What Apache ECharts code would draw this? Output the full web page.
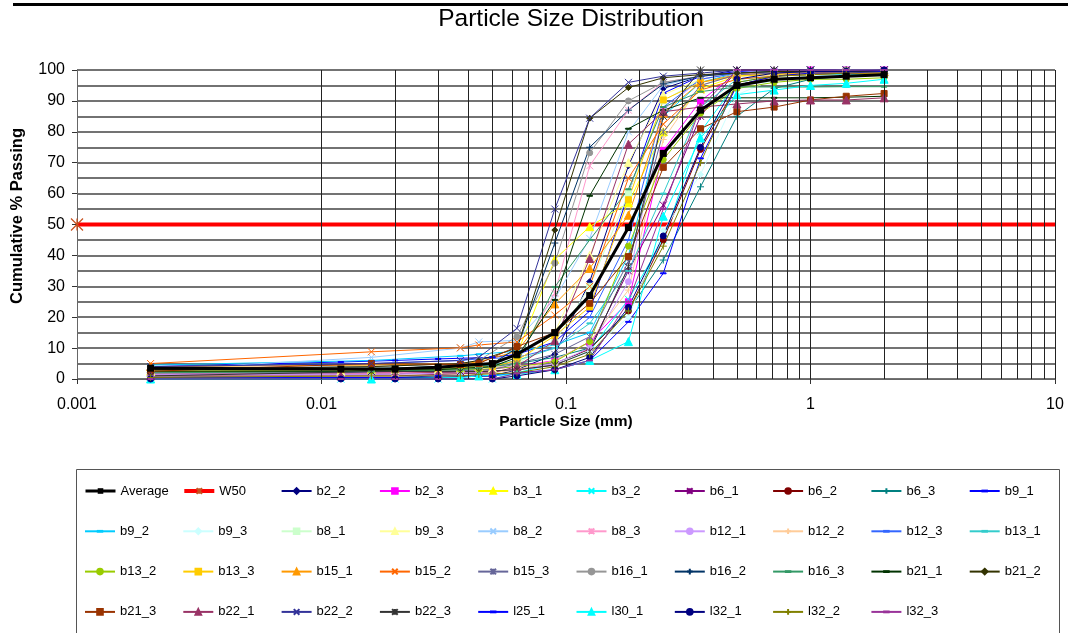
<!DOCTYPE html>
<html><head><meta charset="utf-8">
<script src="https://cdn.jsdelivr.net/npm/echarts@6/dist/echarts.min.js"></script>
<style>html,body{margin:0;padding:0;background:#fff}#c{width:1068px;height:633px}</style>
</head><body><div id="c"></div>
<script>
// particle sizes (mm) at which any sample was measured
const sizes = [0.002, 0.012, 0.016, 0.02, 0.03, 0.037, 0.044, 0.05, 0.063, 0.09, 0.125, 0.18, 0.25, 0.355, 0.5, 0.71, 1, 1.4, 2];
const _ = null;
const xTickLabels = ['0.001', '0.01', '0.1', '1', '10'];
const yTicks = [0, 10, 20, 30, 40, 50, 60, 70, 80, 90, 100];

const w50X = [0.001, 10];
const w50Y = [50, 50];

const average = [3.5, 3.2, _, 3.2, 3.8, _, _, 5, 8, 15, 27, 49, 73, 87, 95, 97, 97.5, 98, 98.5];
const v_b2_2  = [1, 0.5, _, 0.5, 0.5, _, _, 1, 3, 8, 31.5, 69, 94, 98, 100, 100, 100, 100, 100];
const v_b2_3  = [2, _, 2, _, _, 2.5, 3, _, 4, 6, 12, 25, 74, 90, 99, 99.5, 100, 100, 100];
const v_b3_1  = [2.5, _, 3, _, _, 3.5, 4, _, 8, 38.7, 49.3, 57, 80, 94, 98, 99, 99, 99.5, 99.5];
const v_b3_2  = [0, 0, _, 0, 0, _, _, 0, 2, 5, 9, 25.8, 45, 80, 96, 98, 98.5, 99, 99];
const v_b6_1  = [1.5, _, 1.5, _, _, 2, 2, _, 3, 4.5, 10, 35, 56.3, 85, 100, 100, 100, 100, 100];
const v_b6_2  = [2, 2, _, 2, 2, _, _, 2.5, 3, 5, 9.7, 22, 45, 74.3, 95, 98, 99, 99, 99];
const v_b6_3  = [3, _, 3, _, _, 3.5, 4, _, 5, 7, 10, 22, 38.5, 62.2, 85, 94, 97, 98, 98.5];
const v_b9_1  = [4, 5.5, _, 6, 6.5, _, _, 7, 8, 12, 22, 60, 92.5, 98, 99.5, 100, 100, 100, 100];
const v_b9_2  = [4.5, _, 6, _, _, 7.5, 8, _, 9, 11, 15, 40, 85, 96, 99, 99.5, 99.5, 100, 100];
const v_b9_3a = [1, 1, _, 1, 1.5, _, _, 2, 3, 5, 9, 20, 48, 66.2, 92, 97, 98, 98.5, 99];
const v_b8_1  = [2, _, 2.5, _, _, 3, 3.5, _, 5, 12, 30, 60, 90, 97, 99, 99, 99.5, 99.5, 99.5];
const v_b9_3b = [2.5, 2.5, _, 3, 3, _, _, 3.5, 5, 15, 40, 70, 92, 97, 99, 99.5, 99.5, 99.5, 99.5];
const v_b8_2  = [3, _, 7, _, _, 10, 12, _, 12.5, 26, 45.5, 80, 95, 98, 99, 99.5, 100, 100, 100];
const v_b8_3  = [2, 2, _, 2, 2.5, _, _, 3, 6, 27.8, 69, 87, 96, 98, 99, 99, 99.5, 99.5, 99.5];
const v_b12_1 = [1.5, _, 1.5, _, _, 2, 2, _, 3, 5, 10, 31.5, 87, 97, 99, 99.5, 99.5, 100, 100];
const v_b12_2 = [1, 1, _, 1, 1.5, _, _, 2, 3, 6, 12, 28.8, 77.5, 95, 98.5, 99, 99, 99.5, 99.5];
const v_b12_3 = [4, _, 5, _, _, 6, 6.5, _, 7, 10, 20, 45, 88, 97, 99, 99.5, 99.5, 99.5, 99.5];
const v_b13_1 = [3, 3.5, _, 3.5, 4, _, _, 4.5, 6, 10, 18, 35, 60, 88, 97, 98, 98.5, 98.5, 98.5];
const v_b13_2 = [2.5, _, 2.5, _, _, 3, 3, _, 4, 5.6, 12.1, 43, 71, 86, 94, 96, 97, 97, 97.5];
const v_b13_3 = [3, 3, _, 3, 3.5, _, _, 4, 6, 14, 23.3, 58, 90.3, 96, 98, 98.5, 99, 99, 99];
const v_b15_1 = [4, _, 4.5, _, _, 5, 5.5, _, 9, 24.3, 35.8, 53, 86, 96, 98.5, 99, 99, 99.5, 99.5];
const v_b15_2 = [5, _, 8.8, _, _, 10.1, 11, _, 12, 20.7, 30, 65, 82.5, 93.5, 97, 98, 98.5, 99, 99];
const v_b15_3 = [2, 2, _, 2.5, 2.5, _, _, 3, 5, 8, 13.7, 38, 80, 95, 98.5, 99, 99.5, 99.5, 99.5];
const v_b16_1 = [3.5, _, 4, _, _, 5, 6, _, 13.7, 37.5, 73.2, 90, 96, 98, 99, 99.5, 99.5, 100, 100];
const v_b16_2 = [3, 3, _, 3.5, 4, _, _, 5, 10, 44, 75, 87, 95.5, 98, 99, 99.5, 99.5, 99.5, 99.5];
const v_b16_3 = [2, _, 2.5, _, _, 3, 3.5, _, 5, 29.8, 45, 61.4, 88, 93, 94.5, 94.5, 94.5, 94.6, 94.6];
const v_b21_1 = [2.5, 2.5, _, 3, 3, _, _, 4, 7, 25.6, 59.3, 81, 87, 91, 91, 91, 91, 91.2, 91.5];
const v_b21_2 = [3, _, 4, _, _, 5, 6, _, 10, 48.2, 84.4, 94.3, 97.5, 98.5, 99, 99.5, 99.5, 99.5, 99.5];
const v_b21_3 = [2.5, _, 5, _, _, 4.7, 5, _, 10.5, 15, 24.5, 39.6, 68.5, 81, 86.5, 88, 90.3, 91.5, 92.4];
const v_b22_1 = [1, 1, _, 1, 1.5, _, _, 2, 4, 12.4, 39, 76, 86.5, 88, 89, 90, 90.3, 90.3, 91];
const v_b22_2 = [4, _, 5, _, _, 6, 7, _, 16.4, 55, 84.4, 96, 98, 99, 100, 100, 100, 100, 100];
const v_b22_3 = [1, _, 2.4, _, _, 2.4, 2.4, _, 3, 4.5, 9, 36.3, 85, 100, 100, 100, 100, 100, 100];
const v_l25_1 = [0.5, 0.5, _, 0.5, 1, _, _, 1, 2, 3, 6, 18.5, 34.2, 71.4, 95, 98, 99, 99, 99.5];
const v_l30_1 = [0, _, 0, _, _, 0.5, 1, _, 1.5, 3, 6, 12.1, 52.7, 78, 92, 93.5, 95, 95.7, 97];
const v_l32_1 = [0, 0, _, 0, 0, _, _, 0, 1, 3, 7, 23.2, 46.3, 75, 97, 99, 99.5, 99.5, 100];
const v_l32_2 = [0.5, _, 1, _, _, 1, 1.5, _, 2, 4, 8, 22, 43, 70, 96, 98, 98.5, 99, 99];
const v_l32_3 = [0, 0, _, 0, 0, _, _, 0, 1.8, 3, 6, 25, 55, 88, 100, 100, 100, 100, 100];

const SYM = {
  diamond: 'diamond', square: 'rect', triangle: 'triangle', circle: 'circle',
  x: 'path://M0,0L10,10M10,0L0,10',
  star: 'path://M0,0L10,10M10,0L0,10M5,0L5,10',
  plus: 'path://M5,0L5,10M0,5L10,5',
  dash: 'path://M0,0M1,4.3L9,4.3L9,5.7L1,5.7ZM10,10'
};
// [legend name, colour, marker, values]
const samples = [
  ['b2_2', '#000080', 'diamond', v_b2_2],
  ['b2_3', '#ff00ff', 'square', v_b2_3],
  ['b3_1', '#ffff00', 'triangle', v_b3_1],
  ['b3_2', '#00ffff', 'x', v_b3_2],
  ['b6_1', '#800080', 'star', v_b6_1],
  ['b6_2', '#800000', 'circle', v_b6_2],
  ['b6_3', '#008080', 'plus', v_b6_3],
  ['b9_1', '#0000ff', 'dash', v_b9_1],
  ['b9_2', '#00ccff', 'dash', v_b9_2],
  ['b9_3', '#ccffff', 'diamond', v_b9_3a],
  ['b8_1', '#ccffcc', 'square', v_b8_1],
  ['b9_3\u200b', '#ffff99', 'triangle', v_b9_3b],
  ['b8_2', '#99ccff', 'x', v_b8_2],
  ['b8_3', '#ff99cc', 'star', v_b8_3],
  ['b12_1', '#cc99ff', 'circle', v_b12_1],
  ['b12_2', '#ffcc99', 'plus', v_b12_2],
  ['b12_3', '#3366ff', 'dash', v_b12_3],
  ['b13_1', '#33cccc', 'dash', v_b13_1],
  ['b13_2', '#99cc00', 'circle', v_b13_2],
  ['b13_3', '#ffcc00', 'square', v_b13_3],
  ['b15_1', '#ff9900', 'triangle', v_b15_1],
  ['b15_2', '#ff6600', 'x', v_b15_2],
  ['b15_3', '#666699', 'star', v_b15_3],
  ['b16_1', '#969696', 'circle', v_b16_1],
  ['b16_2', '#003366', 'plus', v_b16_2],
  ['b16_3', '#339966', 'dash', v_b16_3],
  ['b21_1', '#003300', 'dash', v_b21_1],
  ['b21_2', '#333300', 'diamond', v_b21_2],
  ['b21_3', '#993300', 'square', v_b21_3],
  ['b22_1', '#993366', 'triangle', v_b22_1],
  ['b22_2', '#333399', 'x', v_b22_2],
  ['b22_3', '#333333', 'star', v_b22_3],
  ['l25_1', '#0000ff', 'dash', v_l25_1],
  ['l30_1', '#00ffff', 'triangle', v_l30_1],
  ['l32_1', '#000080', 'circle', v_l32_1],
  ['l32_2', '#808000', 'plus', v_l32_2],
  ['l32_3', '#993399', 'dash', v_l32_3]
];

const FONT = '"Liberation Sans", Arial, sans-serif';

function pairs(vals) {
  return sizes.map((s, i) => [s, vals[i]]);
}
function symSize(m) {
  if (m === 'triangle') return 8;
  if (m === 'dash' || m === 'x' || m === 'star' || m === 'plus') return 7;
  return 6;
}

// minor log grid lines (2..9 in each decade)
const minorLines = [];
for (let k = -3; k < 1; k++) {
  for (let m = 2; m <= 9; m++) minorLines.push({ xAxis: m * Math.pow(10, k) });
}

const series = [];
series.push({
  name: '__grid', type: 'line', data: [], z: 1, silent: true,
  markLine: {
    silent: true, symbol: ['none', 'none'], label: { show: false },
    lineStyle: { color: '#222', width: 1, type: 'solid' },
    emphasis: { disabled: true },
    data: minorLines
  }
});
series.push({
  name: 'W50', type: 'line', z: 3,
  data: [{ value: [w50X[0], w50Y[0]] }, { value: [w50X[1], w50Y[1]], symbol: 'none' }],
  symbol: SYM.star, symbolSize: 12,
  lineStyle: { color: '#ff0000', width: 4 },
  itemStyle: { color: '#c8501e', borderColor: '#c8501e', borderWidth: 1.2 }
});
samples.forEach(([name, color, mk, vals]) => {
  series.push({
    name, type: 'line', z: 4, connectNulls: true,
    data: pairs(vals),
    symbol: SYM[mk], symbolSize: symSize(mk), symbolKeepAspect: true,
    lineStyle: { color, width: 1 },
    itemStyle: { color, borderColor: color, borderWidth: 1 }
  });
});
series.push({
  name: 'Average', type: 'line', z: 5, connectNulls: true,
  data: pairs(average),
  symbol: 'rect', symbolSize: 7,
  lineStyle: { color: '#000', width: 3 },
  itemStyle: { color: '#000' }
});

// legend layout: 10 per row
const legendOrder = ['Average', 'W50'].concat(samples.map(s => s[0]));
const legendLine = { Average: { color: '#000', width: 3 }, W50: { color: '#ff0000', width: 4 } };
const legends = legendOrder.map((name, i) => {
  const row = Math.floor(i / 10), col = i % 10;
  const lg = {
    data: [name], left: 84 + col * 98.3, top: 484.5 + row * 40.3,
    itemWidth: 30, itemHeight: 7, itemGap: 0, padding: 0,
    symbolKeepAspect: true,
    textStyle: { fontFamily: FONT, fontSize: 13, color: '#000' }
  };
  if (legendLine[name]) lg.lineStyle = legendLine[name];
  return lg;
});

const chart = echarts.init(document.getElementById('c'), null, { renderer: 'canvas' });
chart.setOption({
  animation: false,
  backgroundColor: '#fff',
  title: {
    text: 'Particle Size Distribution', left: 566, top: 2, textAlign: 'center',
    textStyle: { fontFamily: FONT, fontSize: 24.5, fontWeight: 'normal', color: '#000' }
  },
  legend: legends,
  grid: { left: 77, right: 13, top: 70, bottom: 254, containLabel: false },
  xAxis: {
    type: 'log', logBase: 10, min: 0.001, max: 10,
    name: 'Particle Size (mm)', nameLocation: 'middle', nameGap: 30,
    nameTextStyle: { fontFamily: FONT, fontSize: 15.5, fontWeight: 'bold', color: '#000' },
    axisLine: { show: true, lineStyle: { color: '#666', width: 1 } },
    axisTick: { show: true, length: 5, lineStyle: { color: '#333' } },
    axisLabel: {
      fontFamily: FONT, fontSize: 16, color: '#000', margin: 18,
      formatter: (v, i) => xTickLabels[i]
    },
    splitLine: { show: true, lineStyle: { color: '#222', width: 1 } },
    minorTick: { show: false }, minorSplitLine: { show: false }
  },
  yAxis: {
    type: 'value', min: yTicks[0], max: yTicks[yTicks.length - 1], interval: 10,
    axisLine: { show: true, lineStyle: { color: '#666', width: 1 } },
    axisTick: { show: true, length: 5, lineStyle: { color: '#333' } },
    axisLabel: { fontFamily: FONT, fontSize: 16, color: '#000', margin: 12 },
    splitLine: { show: true, lineStyle: { color: '#444', width: 1.5 } },
    minorTick: { show: false, splitNumber: 2 },
    minorSplitLine: { show: true, lineStyle: { color: '#444', width: 1.5 } }
  },
  graphic: [
    { type: 'rect', shape: { x: 13, y: 3, width: 1055, height: 3 }, style: { fill: '#000' }, silent: true },
    { type: 'rect', shape: { x: 76.5, y: 469.5, width: 983, height: 200 }, style: { fill: 'none', stroke: '#555', lineWidth: 1 }, silent: true, z: -1 },
    {
      type: 'text', x: 17, y: 216, rotation: Math.PI / 2, silent: true,
      style: {
        text: 'Cumulative % Passing', fill: '#000', align: 'center', verticalAlign: 'middle',
        font: 'bold 16.5px "Liberation Sans", Arial, sans-serif'
      }
    }
  ],
  series
});
</script>
</body></html>
